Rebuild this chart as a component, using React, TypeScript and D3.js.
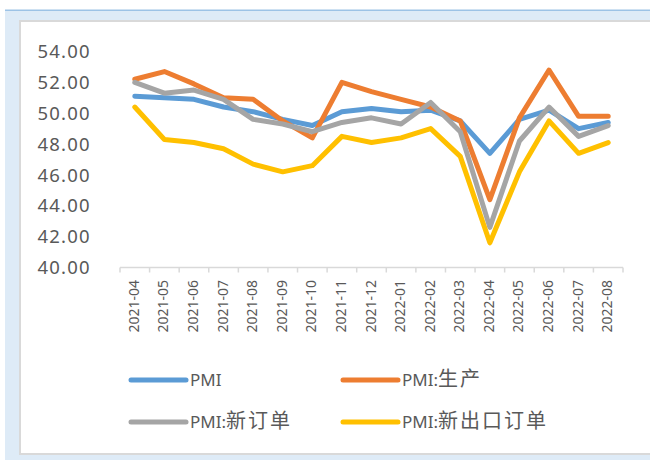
import React from "react";
import * as d3 from "d3";

const months = ["2021-04","2021-05","2021-06","2021-07","2021-08","2021-09","2021-10","2021-11","2021-12","2022-01","2022-02","2022-03","2022-04","2022-05","2022-06","2022-07","2022-08"];
const pmi = [51.1,51.0,50.9,50.4,50.1,49.6,49.2,50.1,50.3,50.1,50.2,49.5,47.4,49.6,50.2,49.0,49.4];
const production = [52.2,52.7,51.9,51.0,50.9,49.5,48.4,52.0,51.4,50.9,50.4,49.5,44.4,49.7,52.8,49.8,49.8];
const newOrders = [52.0,51.3,51.5,50.9,49.6,49.3,48.8,49.4,49.7,49.3,50.7,48.8,42.6,48.2,50.4,48.5,49.2];
const newExportOrders = [50.4,48.3,48.1,47.7,46.7,46.2,46.6,48.5,48.1,48.4,49.0,47.2,41.6,46.2,49.5,47.4,48.1];
const yTicks = [40,42,44,46,48,50,52,54];

const seriesNames = ["PMI","PMI:生产","PMI:新订单","PMI:新出口订单"];
const seriesColors = ["#5B9BD5","#ED7D31","#A5A5A5","#FFC000"];
const seriesData = [pmi, production, newOrders, newExportOrders];

export default function App() {
  const x = d3.scaleBand<string>().domain(months).range([120, 623]);
  const y = d3.scaleLinear().domain([40, 54]).range([267.5, 51.5]);
  const line = d3.line<number>()
    .x((_, i) => (x(months[i]) as number) + x.bandwidth() / 2)
    .y((d) => y(d));
  const tickXs = months.map((m) => x(m) as number).concat([623]);
  const textColor = "#595959";
  const font = "'Noto Sans', 'Noto Sans CJK SC', sans-serif";
  // drawing order: export orders under? Excel draws series in order
  const drawOrder = [0, 1, 2, 3];
  const legendPos = [
    { x: 131, y: 380 },
    { x: 343, y: 380 },
    { x: 131, y: 422 },
    { x: 343, y: 422 },
  ];
  const splitName = (n: string) => {
    const idx = n.indexOf(":");
    if (idx < 0) return [n, ""];
    return [n.slice(0, idx + 1), n.slice(idx + 1)];
  };
  return (
    <svg width={650} height={460} style={{ position: "absolute", left: 0, top: 0 }} fontFamily={font}>
      <rect x={0} y={0} width={650} height={460} fill="#ffffff" />
      <rect x={5} y={10} width={645} height={450} fill="#DEEBF7" />
      <rect x={5} y={9.5} width={645} height={1.5} fill="#9DC3E6" />
      <rect x={20} y={21} width={640} height={433} fill="#ffffff" stroke="#D9D9D9" strokeWidth={2} />
      {yTicks.map((t) => (
        <text key={t} x={37.5} y={y(t)} dy="0.36em" fontSize={18.5} letterSpacing={1.2} fill={textColor}>
          {t.toFixed(2)}
        </text>
      ))}
      <line x1={120} x2={623} y1={y(40)} y2={y(40)} stroke="#D9D9D9" strokeWidth={1.5} />
      {tickXs.map((tx, i) => (
        <line key={i} x1={tx} x2={tx} y1={y(40)} y2={y(40) + 5} stroke="#D9D9D9" strokeWidth={1.5} />
      ))}
      {months.map((m) => {
        const cx = (x(m) as number) + x.bandwidth() / 2 + 4;
        return (
          <text key={m} transform={`translate(${cx},280) rotate(-90)`} textAnchor="end" fontSize={14} fill={textColor}>
            {m}
          </text>
        );
      })}
      {drawOrder.map((i) => (
        <path key={i} d={line(seriesData[i]) || ""} fill="none" stroke={seriesColors[i]} strokeWidth={5} strokeLinejoin="round" strokeLinecap="round" />
      ))}
      {seriesNames.map((n, i) => {
        const p = legendPos[i];
        const [a, b] = splitName(n);
        return (
          <g key={n}>
            <line x1={p.x} x2={p.x + 55} y1={p.y} y2={p.y} stroke={seriesColors[i]} strokeWidth={5} strokeLinecap="round" />
            <text x={p.x + 59} y={p.y} dy="0.36em" fontSize={17} fill={textColor}>
              {a}
              {b && <tspan fontSize={20} letterSpacing={2}>{b}</tspan>}
            </text>
          </g>
        );
      })}
    </svg>
  );
}
